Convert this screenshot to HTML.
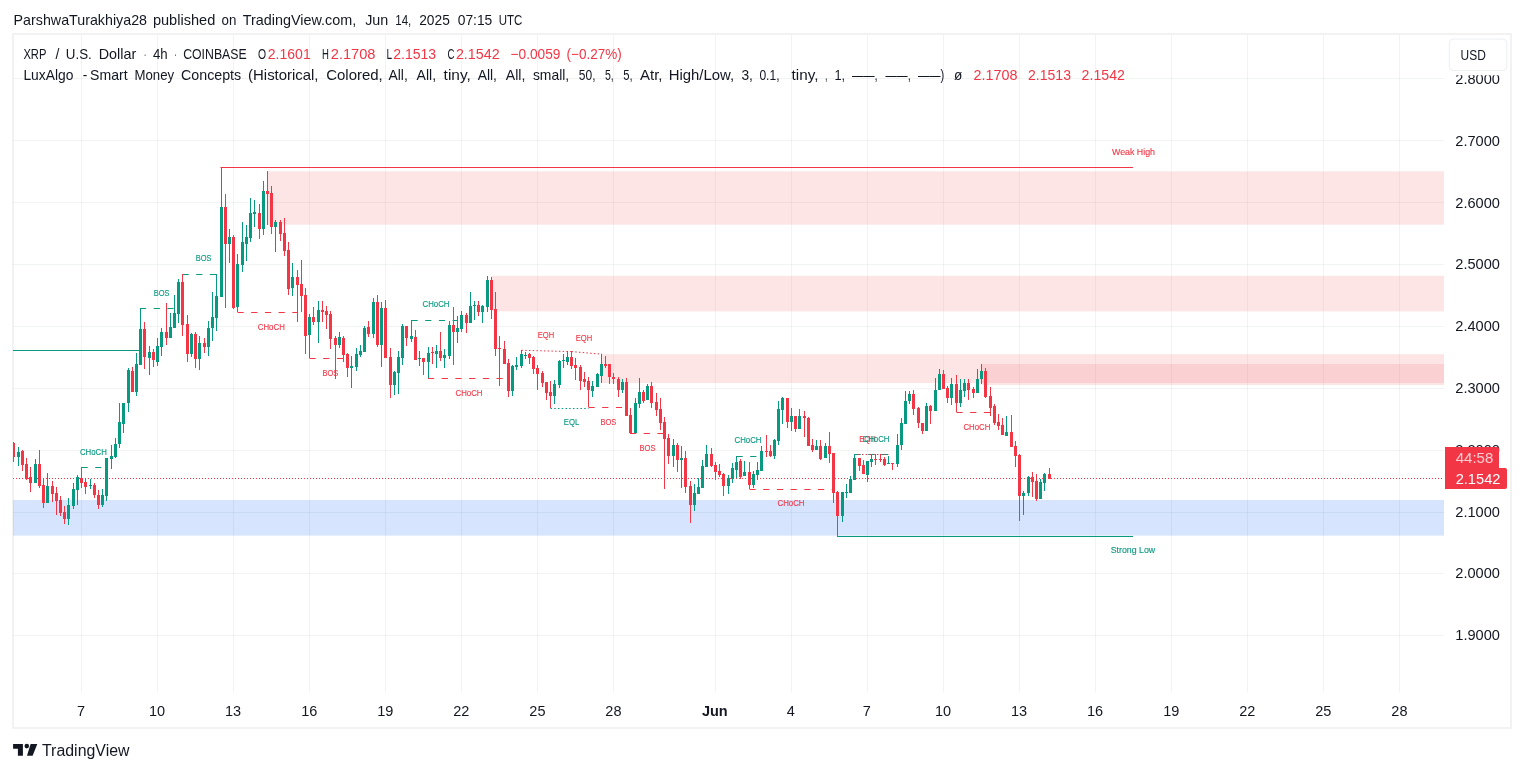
<!DOCTYPE html>
<html><head><meta charset="utf-8"><title>XRP / U.S. Dollar chart</title>
<style>html,body{margin:0;padding:0;background:#fff}body{width:1524px;height:772px;position:relative;overflow:hidden}</style></head>
<body>
<svg width="1524" height="772" viewBox="0 0 1524 772" style="position:absolute;left:0;top:0;font-family:'Liberation Sans', sans-serif">
<rect x="0" y="0" width="1524" height="772" fill="#fff"/>
<rect x="13" y="34" width="1498" height="694" fill="#fff" stroke="#f2f2f3" stroke-width="2"/>
<defs><clipPath id="pane"><rect x="13" y="35" width="1431" height="657"/></clipPath></defs>
<g shape-rendering="crispEdges" fill="rgba(42,46,57,0.06)">
<rect x="81" y="35" width="1" height="657"/>
<rect x="157" y="35" width="1" height="657"/>
<rect x="233" y="35" width="1" height="657"/>
<rect x="309" y="35" width="1" height="657"/>
<rect x="385" y="35" width="1" height="657"/>
<rect x="461" y="35" width="1" height="657"/>
<rect x="537" y="35" width="1" height="657"/>
<rect x="613" y="35" width="1" height="657"/>
<rect x="715" y="35" width="1" height="657"/>
<rect x="791" y="35" width="1" height="657"/>
<rect x="867" y="35" width="1" height="657"/>
<rect x="943" y="35" width="1" height="657"/>
<rect x="1019" y="35" width="1" height="657"/>
<rect x="1095" y="35" width="1" height="657"/>
<rect x="1171" y="35" width="1" height="657"/>
<rect x="1247" y="35" width="1" height="657"/>
<rect x="1323" y="35" width="1" height="657"/>
<rect x="1399" y="35" width="1" height="657"/>
<rect x="13" y="78" width="1431" height="1"/>
<rect x="13" y="140" width="1431" height="1"/>
<rect x="13" y="202" width="1431" height="1"/>
<rect x="13" y="264" width="1431" height="1"/>
<rect x="13" y="326" width="1431" height="1"/>
<rect x="13" y="388" width="1431" height="1"/>
<rect x="13" y="450" width="1431" height="1"/>
<rect x="13" y="512" width="1431" height="1"/>
<rect x="13" y="573" width="1431" height="1"/>
<rect x="13" y="635" width="1431" height="1"/>
</g>
<g clip-path="url(#pane)">
<rect x="267.5" y="171.3" width="1176.5" height="53.39999999999998" fill="rgba(247,124,128,0.2)"/>
<rect x="491.5" y="275.8" width="952.5" height="35.599999999999966" fill="rgba(247,124,128,0.2)"/>
<rect x="601.9" y="354.2" width="842.1" height="28.80000000000001" fill="rgba(247,124,128,0.2)"/>
<rect x="981.4" y="364.0" width="462.6" height="21.0" fill="rgba(247,124,128,0.2)"/>
<rect x="13" y="500" width="1431" height="35.60000000000002" fill="rgba(49,121,245,0.2)"/>
<line x1="13" y1="350.5" x2="140" y2="350.5" stroke="#089981" stroke-width="1"/>
<line x1="81.5" y1="467.5" x2="107" y2="467.5" stroke="#089981" stroke-width="1" stroke-dasharray="6.2 7.5"/>
<line x1="140" y1="308.5" x2="175" y2="308.5" stroke="#089981" stroke-width="1" stroke-dasharray="6.2 7.5"/>
<line x1="182.5" y1="274.5" x2="216" y2="274.5" stroke="#089981" stroke-width="1" stroke-dasharray="6.2 7.5"/>
<line x1="220.5" y1="167.5" x2="1133" y2="167.5" stroke="#f23645" stroke-width="1"/>
<line x1="237.5" y1="312.5" x2="297" y2="312.5" stroke="#f23645" stroke-width="1" stroke-dasharray="6.2 7.5"/>
<line x1="309.5" y1="358.5" x2="343.5" y2="358.5" stroke="#f23645" stroke-width="1" stroke-dasharray="6.2 7.5"/>
<line x1="411.5" y1="320.5" x2="458" y2="320.5" stroke="#089981" stroke-width="1" stroke-dasharray="6.2 7.5"/>
<line x1="428" y1="378.5" x2="503" y2="378.5" stroke="#f23645" stroke-width="1" stroke-dasharray="6.2 7.5"/>
<line x1="521.5" y1="350.3" x2="571.5" y2="351.6" stroke="#f23645" stroke-width="1" stroke-dasharray="1.5 2.24"/>
<line x1="571.5" y1="351.6" x2="602" y2="354.2" stroke="#f23645" stroke-width="1" stroke-dasharray="1.5 2.24"/>
<line x1="550.5" y1="408.5" x2="588.5" y2="408.5" stroke="#089981" stroke-width="1" stroke-dasharray="1.5 2.24"/>
<line x1="588.5" y1="407.5" x2="624.5" y2="407.5" stroke="#f23645" stroke-width="1" stroke-dasharray="6.2 7.5"/>
<line x1="630" y1="433.5" x2="665" y2="433.5" stroke="#f23645" stroke-width="1" stroke-dasharray="6.2 7.5"/>
<line x1="736.5" y1="456.5" x2="761" y2="456.5" stroke="#089981" stroke-width="1" stroke-dasharray="6.2 7.5"/>
<line x1="749.5" y1="489.5" x2="832.5" y2="489.5" stroke="#f23645" stroke-width="1" stroke-dasharray="6.2 7.5"/>
<line x1="854.5" y1="454.5" x2="888.5" y2="454.5" stroke="#089981" stroke-width="1" stroke-dasharray="6.2 7.5"/>
<line x1="854.5" y1="454.5" x2="888.5" y2="454.5" stroke="#f23645" stroke-width="1" stroke-dasharray="1.5 2.24"/>
<line x1="956.5" y1="412.5" x2="990" y2="412.5" stroke="#f23645" stroke-width="1" stroke-dasharray="6.2 7.5"/>
<line x1="837.5" y1="536.5" x2="1133" y2="536.5" stroke="#089981" stroke-width="1"/>
<line x1="13" y1="478.5" x2="1444" y2="478.5" stroke="#f23645" stroke-width="1" stroke-dasharray="1 2"/>
<g shape-rendering="crispEdges">
<rect x="13" y="442" width="1" height="20" fill="#f23645"/>
<rect x="12" y="443" width="3" height="14" fill="#f23645"/>
<rect x="18" y="447" width="1" height="19" fill="#089981"/>
<rect x="17" y="452" width="3" height="5" fill="#089981"/>
<rect x="22" y="450" width="1" height="21" fill="#f23645"/>
<rect x="21" y="451" width="3" height="14" fill="#f23645"/>
<rect x="26" y="458" width="1" height="22" fill="#f23645"/>
<rect x="25" y="464" width="3" height="15" fill="#f23645"/>
<rect x="30" y="467" width="1" height="25" fill="#f23645"/>
<rect x="29" y="477" width="3" height="6" fill="#f23645"/>
<rect x="35" y="459" width="1" height="24" fill="#089981"/>
<rect x="34" y="464" width="3" height="19" fill="#089981"/>
<rect x="39" y="450" width="1" height="38" fill="#f23645"/>
<rect x="38" y="464" width="3" height="22" fill="#f23645"/>
<rect x="43" y="478" width="1" height="30" fill="#f23645"/>
<rect x="42" y="485" width="3" height="18" fill="#f23645"/>
<rect x="47" y="473" width="1" height="30" fill="#089981"/>
<rect x="46" y="486" width="3" height="17" fill="#089981"/>
<rect x="52" y="481" width="1" height="21" fill="#f23645"/>
<rect x="51" y="486" width="3" height="8" fill="#f23645"/>
<rect x="56" y="487" width="1" height="28" fill="#f23645"/>
<rect x="55" y="493" width="3" height="8" fill="#f23645"/>
<rect x="60" y="496" width="1" height="20" fill="#f23645"/>
<rect x="59" y="500" width="3" height="13" fill="#f23645"/>
<rect x="64" y="506" width="1" height="18" fill="#f23645"/>
<rect x="63" y="512" width="3" height="7" fill="#f23645"/>
<rect x="68" y="498" width="1" height="27" fill="#089981"/>
<rect x="67" y="505" width="3" height="14" fill="#089981"/>
<rect x="73" y="483" width="1" height="26" fill="#089981"/>
<rect x="72" y="489" width="3" height="17" fill="#089981"/>
<rect x="77" y="475" width="1" height="30" fill="#089981"/>
<rect x="76" y="477" width="3" height="13" fill="#089981"/>
<rect x="81" y="467" width="1" height="21" fill="#f23645"/>
<rect x="80" y="478" width="3" height="5" fill="#f23645"/>
<rect x="85" y="479" width="1" height="15" fill="#f23645"/>
<rect x="84" y="482" width="3" height="5" fill="#f23645"/>
<rect x="90" y="479" width="1" height="10" fill="#089981"/>
<rect x="89" y="485" width="3" height="1" fill="#089981"/>
<rect x="94" y="483" width="1" height="15" fill="#f23645"/>
<rect x="93" y="485" width="3" height="10" fill="#f23645"/>
<rect x="98" y="490" width="1" height="19" fill="#f23645"/>
<rect x="97" y="495" width="3" height="10" fill="#f23645"/>
<rect x="102" y="489" width="1" height="18" fill="#089981"/>
<rect x="101" y="495" width="3" height="10" fill="#089981"/>
<rect x="106" y="458" width="1" height="43" fill="#089981"/>
<rect x="105" y="458" width="3" height="38" fill="#089981"/>
<rect x="111" y="445" width="1" height="24" fill="#089981"/>
<rect x="110" y="456" width="3" height="3" fill="#089981"/>
<rect x="115" y="438" width="1" height="20" fill="#089981"/>
<rect x="114" y="444" width="3" height="13" fill="#089981"/>
<rect x="119" y="403" width="1" height="45" fill="#089981"/>
<rect x="118" y="422" width="3" height="22" fill="#089981"/>
<rect x="123" y="403" width="1" height="30" fill="#089981"/>
<rect x="122" y="403" width="3" height="21" fill="#089981"/>
<rect x="128" y="368" width="1" height="44" fill="#089981"/>
<rect x="127" y="370" width="3" height="33" fill="#089981"/>
<rect x="132" y="367" width="1" height="25" fill="#f23645"/>
<rect x="131" y="371" width="3" height="21" fill="#f23645"/>
<rect x="136" y="353" width="1" height="43" fill="#089981"/>
<rect x="135" y="364" width="3" height="28" fill="#089981"/>
<rect x="140" y="309" width="1" height="56" fill="#089981"/>
<rect x="139" y="329" width="3" height="36" fill="#089981"/>
<rect x="144" y="322" width="1" height="47" fill="#f23645"/>
<rect x="143" y="329" width="3" height="28" fill="#f23645"/>
<rect x="149" y="346" width="1" height="29" fill="#089981"/>
<rect x="148" y="352" width="3" height="6" fill="#089981"/>
<rect x="153" y="349" width="1" height="18" fill="#f23645"/>
<rect x="152" y="352" width="3" height="8" fill="#f23645"/>
<rect x="157" y="338" width="1" height="28" fill="#089981"/>
<rect x="156" y="346" width="3" height="16" fill="#089981"/>
<rect x="161" y="328" width="1" height="28" fill="#089981"/>
<rect x="160" y="332" width="3" height="15" fill="#089981"/>
<rect x="166" y="303" width="1" height="42" fill="#f23645"/>
<rect x="165" y="332" width="3" height="6" fill="#f23645"/>
<rect x="170" y="313" width="1" height="25" fill="#089981"/>
<rect x="169" y="327" width="3" height="11" fill="#089981"/>
<rect x="174" y="295" width="1" height="33" fill="#089981"/>
<rect x="173" y="313" width="3" height="15" fill="#089981"/>
<rect x="178" y="279" width="1" height="44" fill="#089981"/>
<rect x="177" y="282" width="3" height="32" fill="#089981"/>
<rect x="182" y="274" width="1" height="62" fill="#f23645"/>
<rect x="181" y="282" width="3" height="43" fill="#f23645"/>
<rect x="187" y="315" width="1" height="47" fill="#f23645"/>
<rect x="186" y="324" width="3" height="30" fill="#f23645"/>
<rect x="191" y="333" width="1" height="24" fill="#089981"/>
<rect x="190" y="334" width="3" height="20" fill="#089981"/>
<rect x="195" y="332" width="1" height="36" fill="#f23645"/>
<rect x="194" y="334" width="3" height="25" fill="#f23645"/>
<rect x="199" y="336" width="1" height="34" fill="#089981"/>
<rect x="198" y="343" width="3" height="16" fill="#089981"/>
<rect x="204" y="338" width="1" height="15" fill="#f23645"/>
<rect x="203" y="343" width="3" height="4" fill="#f23645"/>
<rect x="208" y="321" width="1" height="35" fill="#089981"/>
<rect x="207" y="328" width="3" height="19" fill="#089981"/>
<rect x="212" y="292" width="1" height="49" fill="#089981"/>
<rect x="211" y="317" width="3" height="11" fill="#089981"/>
<rect x="216" y="274" width="1" height="57" fill="#089981"/>
<rect x="215" y="296" width="3" height="22" fill="#089981"/>
<rect x="221" y="167" width="1" height="130" fill="#089981"/>
<rect x="220" y="207" width="3" height="90" fill="#089981"/>
<rect x="225" y="194" width="1" height="114" fill="#f23645"/>
<rect x="224" y="207" width="3" height="37" fill="#f23645"/>
<rect x="229" y="229" width="1" height="34" fill="#089981"/>
<rect x="228" y="237" width="3" height="7" fill="#089981"/>
<rect x="233" y="235" width="1" height="74" fill="#f23645"/>
<rect x="232" y="237" width="3" height="71" fill="#f23645"/>
<rect x="237" y="254" width="1" height="58" fill="#089981"/>
<rect x="236" y="264" width="3" height="43" fill="#089981"/>
<rect x="242" y="222" width="1" height="50" fill="#089981"/>
<rect x="241" y="242" width="3" height="23" fill="#089981"/>
<rect x="246" y="225" width="1" height="36" fill="#089981"/>
<rect x="245" y="237" width="3" height="7" fill="#089981"/>
<rect x="250" y="198" width="1" height="44" fill="#089981"/>
<rect x="249" y="213" width="3" height="25" fill="#089981"/>
<rect x="254" y="200" width="1" height="27" fill="#089981"/>
<rect x="253" y="212" width="3" height="2" fill="#089981"/>
<rect x="259" y="204" width="1" height="35" fill="#f23645"/>
<rect x="258" y="213" width="3" height="16" fill="#f23645"/>
<rect x="263" y="181" width="1" height="54" fill="#089981"/>
<rect x="262" y="191" width="3" height="38" fill="#089981"/>
<rect x="267" y="171" width="1" height="54" fill="#f23645"/>
<rect x="266" y="191" width="3" height="3" fill="#f23645"/>
<rect x="271" y="186" width="1" height="48" fill="#f23645"/>
<rect x="270" y="193" width="3" height="34" fill="#f23645"/>
<rect x="275" y="220" width="1" height="32" fill="#089981"/>
<rect x="274" y="222" width="3" height="5" fill="#089981"/>
<rect x="280" y="220" width="1" height="21" fill="#f23645"/>
<rect x="279" y="222" width="3" height="12" fill="#f23645"/>
<rect x="284" y="218" width="1" height="38" fill="#f23645"/>
<rect x="283" y="233" width="3" height="18" fill="#f23645"/>
<rect x="288" y="242" width="1" height="53" fill="#f23645"/>
<rect x="287" y="250" width="3" height="39" fill="#f23645"/>
<rect x="292" y="263" width="1" height="33" fill="#089981"/>
<rect x="291" y="277" width="3" height="11" fill="#089981"/>
<rect x="297" y="270" width="1" height="52" fill="#f23645"/>
<rect x="296" y="277" width="3" height="8" fill="#f23645"/>
<rect x="301" y="260" width="1" height="52" fill="#f23645"/>
<rect x="300" y="284" width="3" height="12" fill="#f23645"/>
<rect x="305" y="288" width="1" height="66" fill="#f23645"/>
<rect x="304" y="295" width="3" height="41" fill="#f23645"/>
<rect x="309" y="314" width="1" height="44" fill="#089981"/>
<rect x="308" y="317" width="3" height="18" fill="#089981"/>
<rect x="313" y="307" width="1" height="18" fill="#f23645"/>
<rect x="312" y="317" width="3" height="5" fill="#f23645"/>
<rect x="318" y="301" width="1" height="42" fill="#089981"/>
<rect x="317" y="310" width="3" height="12" fill="#089981"/>
<rect x="322" y="301" width="1" height="21" fill="#f23645"/>
<rect x="321" y="310" width="3" height="2" fill="#f23645"/>
<rect x="326" y="306" width="1" height="23" fill="#f23645"/>
<rect x="325" y="311" width="3" height="4" fill="#f23645"/>
<rect x="330" y="311" width="1" height="38" fill="#f23645"/>
<rect x="329" y="314" width="3" height="25" fill="#f23645"/>
<rect x="335" y="336" width="1" height="43" fill="#f23645"/>
<rect x="334" y="338" width="3" height="7" fill="#f23645"/>
<rect x="339" y="332" width="1" height="16" fill="#089981"/>
<rect x="338" y="337" width="3" height="8" fill="#089981"/>
<rect x="343" y="336" width="1" height="26" fill="#f23645"/>
<rect x="342" y="338" width="3" height="17" fill="#f23645"/>
<rect x="347" y="353" width="1" height="24" fill="#f23645"/>
<rect x="346" y="354" width="3" height="14" fill="#f23645"/>
<rect x="351" y="356" width="1" height="32" fill="#089981"/>
<rect x="350" y="366" width="3" height="2" fill="#089981"/>
<rect x="356" y="348" width="1" height="23" fill="#089981"/>
<rect x="355" y="354" width="3" height="13" fill="#089981"/>
<rect x="360" y="345" width="1" height="12" fill="#089981"/>
<rect x="359" y="351" width="3" height="4" fill="#089981"/>
<rect x="364" y="326" width="1" height="26" fill="#089981"/>
<rect x="363" y="328" width="3" height="24" fill="#089981"/>
<rect x="368" y="321" width="1" height="16" fill="#f23645"/>
<rect x="367" y="327" width="3" height="7" fill="#f23645"/>
<rect x="373" y="298" width="1" height="40" fill="#089981"/>
<rect x="372" y="302" width="3" height="32" fill="#089981"/>
<rect x="377" y="295" width="1" height="52" fill="#f23645"/>
<rect x="376" y="302" width="3" height="43" fill="#f23645"/>
<rect x="381" y="302" width="1" height="65" fill="#089981"/>
<rect x="380" y="308" width="3" height="37" fill="#089981"/>
<rect x="385" y="300" width="1" height="58" fill="#f23645"/>
<rect x="384" y="308" width="3" height="50" fill="#f23645"/>
<rect x="390" y="348" width="1" height="50" fill="#f23645"/>
<rect x="389" y="357" width="3" height="28" fill="#f23645"/>
<rect x="394" y="371" width="1" height="24" fill="#089981"/>
<rect x="393" y="372" width="3" height="13" fill="#089981"/>
<rect x="398" y="351" width="1" height="43" fill="#089981"/>
<rect x="397" y="357" width="3" height="16" fill="#089981"/>
<rect x="402" y="324" width="1" height="41" fill="#089981"/>
<rect x="401" y="326" width="3" height="32" fill="#089981"/>
<rect x="406" y="326" width="1" height="20" fill="#f23645"/>
<rect x="405" y="326" width="3" height="12" fill="#f23645"/>
<rect x="411" y="320" width="1" height="22" fill="#089981"/>
<rect x="410" y="336" width="3" height="3" fill="#089981"/>
<rect x="415" y="330" width="1" height="30" fill="#f23645"/>
<rect x="414" y="337" width="3" height="23" fill="#f23645"/>
<rect x="419" y="351" width="1" height="15" fill="#089981"/>
<rect x="418" y="358" width="3" height="1" fill="#089981"/>
<rect x="423" y="358" width="1" height="17" fill="#f23645"/>
<rect x="422" y="358" width="3" height="4" fill="#f23645"/>
<rect x="428" y="347" width="1" height="31" fill="#089981"/>
<rect x="427" y="353" width="3" height="9" fill="#089981"/>
<rect x="432" y="347" width="1" height="17" fill="#f23645"/>
<rect x="431" y="352" width="3" height="1" fill="#f23645"/>
<rect x="436" y="345" width="1" height="23" fill="#089981"/>
<rect x="435" y="351" width="3" height="3" fill="#089981"/>
<rect x="440" y="332" width="1" height="29" fill="#f23645"/>
<rect x="439" y="351" width="3" height="7" fill="#f23645"/>
<rect x="444" y="349" width="1" height="19" fill="#089981"/>
<rect x="443" y="355" width="3" height="3" fill="#089981"/>
<rect x="449" y="321" width="1" height="38" fill="#089981"/>
<rect x="448" y="325" width="3" height="31" fill="#089981"/>
<rect x="453" y="307" width="1" height="58" fill="#f23645"/>
<rect x="452" y="325" width="3" height="7" fill="#f23645"/>
<rect x="457" y="316" width="1" height="27" fill="#089981"/>
<rect x="456" y="328" width="3" height="4" fill="#089981"/>
<rect x="461" y="311" width="1" height="21" fill="#089981"/>
<rect x="460" y="315" width="3" height="14" fill="#089981"/>
<rect x="466" y="313" width="1" height="20" fill="#f23645"/>
<rect x="465" y="315" width="3" height="8" fill="#f23645"/>
<rect x="470" y="292" width="1" height="31" fill="#089981"/>
<rect x="469" y="306" width="3" height="17" fill="#089981"/>
<rect x="474" y="301" width="1" height="19" fill="#089981"/>
<rect x="473" y="305" width="3" height="1" fill="#089981"/>
<rect x="478" y="301" width="1" height="15" fill="#f23645"/>
<rect x="477" y="305" width="3" height="7" fill="#f23645"/>
<rect x="482" y="305" width="1" height="18" fill="#089981"/>
<rect x="481" y="306" width="3" height="6" fill="#089981"/>
<rect x="487" y="276" width="1" height="36" fill="#089981"/>
<rect x="486" y="280" width="3" height="27" fill="#089981"/>
<rect x="491" y="277" width="1" height="42" fill="#f23645"/>
<rect x="490" y="280" width="3" height="30" fill="#f23645"/>
<rect x="495" y="292" width="1" height="64" fill="#f23645"/>
<rect x="494" y="309" width="3" height="40" fill="#f23645"/>
<rect x="499" y="336" width="1" height="50" fill="#f23645"/>
<rect x="498" y="348" width="3" height="1" fill="#f23645"/>
<rect x="504" y="341" width="1" height="23" fill="#f23645"/>
<rect x="503" y="349" width="3" height="15" fill="#f23645"/>
<rect x="508" y="359" width="1" height="38" fill="#f23645"/>
<rect x="507" y="363" width="3" height="28" fill="#f23645"/>
<rect x="512" y="365" width="1" height="31" fill="#089981"/>
<rect x="511" y="366" width="3" height="25" fill="#089981"/>
<rect x="516" y="357" width="1" height="13" fill="#089981"/>
<rect x="515" y="365" width="3" height="2" fill="#089981"/>
<rect x="521" y="350" width="1" height="18" fill="#089981"/>
<rect x="520" y="354" width="3" height="12" fill="#089981"/>
<rect x="525" y="352" width="1" height="7" fill="#089981"/>
<rect x="524" y="355" width="3" height="1" fill="#089981"/>
<rect x="529" y="353" width="1" height="11" fill="#f23645"/>
<rect x="528" y="354" width="3" height="4" fill="#f23645"/>
<rect x="533" y="356" width="1" height="18" fill="#f23645"/>
<rect x="532" y="357" width="3" height="12" fill="#f23645"/>
<rect x="537" y="365" width="1" height="25" fill="#f23645"/>
<rect x="536" y="368" width="3" height="6" fill="#f23645"/>
<rect x="542" y="371" width="1" height="16" fill="#f23645"/>
<rect x="541" y="373" width="3" height="10" fill="#f23645"/>
<rect x="546" y="382" width="1" height="18" fill="#f23645"/>
<rect x="545" y="382" width="3" height="11" fill="#f23645"/>
<rect x="550" y="381" width="1" height="27" fill="#f23645"/>
<rect x="549" y="392" width="3" height="4" fill="#f23645"/>
<rect x="554" y="380" width="1" height="24" fill="#089981"/>
<rect x="553" y="384" width="3" height="12" fill="#089981"/>
<rect x="559" y="360" width="1" height="28" fill="#089981"/>
<rect x="558" y="361" width="3" height="24" fill="#089981"/>
<rect x="563" y="354" width="1" height="14" fill="#089981"/>
<rect x="562" y="360" width="3" height="1" fill="#089981"/>
<rect x="567" y="351" width="1" height="14" fill="#089981"/>
<rect x="566" y="357" width="3" height="5" fill="#089981"/>
<rect x="571" y="351" width="1" height="18" fill="#f23645"/>
<rect x="570" y="357" width="3" height="9" fill="#f23645"/>
<rect x="575" y="358" width="1" height="22" fill="#f23645"/>
<rect x="574" y="365" width="3" height="3" fill="#f23645"/>
<rect x="580" y="365" width="1" height="25" fill="#f23645"/>
<rect x="579" y="367" width="3" height="14" fill="#f23645"/>
<rect x="584" y="372" width="1" height="15" fill="#f23645"/>
<rect x="583" y="379" width="3" height="3" fill="#f23645"/>
<rect x="588" y="377" width="1" height="30" fill="#f23645"/>
<rect x="587" y="381" width="3" height="9" fill="#f23645"/>
<rect x="592" y="381" width="1" height="16" fill="#089981"/>
<rect x="591" y="386" width="3" height="5" fill="#089981"/>
<rect x="597" y="373" width="1" height="14" fill="#089981"/>
<rect x="596" y="374" width="3" height="13" fill="#089981"/>
<rect x="601" y="354" width="1" height="29" fill="#089981"/>
<rect x="600" y="364" width="3" height="12" fill="#089981"/>
<rect x="605" y="356" width="1" height="12" fill="#f23645"/>
<rect x="604" y="364" width="3" height="2" fill="#f23645"/>
<rect x="609" y="364" width="1" height="20" fill="#f23645"/>
<rect x="608" y="364" width="3" height="13" fill="#f23645"/>
<rect x="613" y="373" width="1" height="11" fill="#f23645"/>
<rect x="612" y="377" width="3" height="2" fill="#f23645"/>
<rect x="618" y="377" width="1" height="20" fill="#f23645"/>
<rect x="617" y="379" width="3" height="11" fill="#f23645"/>
<rect x="622" y="379" width="1" height="14" fill="#089981"/>
<rect x="621" y="382" width="3" height="8" fill="#089981"/>
<rect x="626" y="378" width="1" height="38" fill="#f23645"/>
<rect x="625" y="382" width="3" height="34" fill="#f23645"/>
<rect x="630" y="408" width="1" height="25" fill="#f23645"/>
<rect x="629" y="415" width="3" height="18" fill="#f23645"/>
<rect x="635" y="398" width="1" height="35" fill="#089981"/>
<rect x="634" y="403" width="3" height="30" fill="#089981"/>
<rect x="639" y="378" width="1" height="30" fill="#089981"/>
<rect x="638" y="392" width="3" height="12" fill="#089981"/>
<rect x="643" y="390" width="1" height="13" fill="#f23645"/>
<rect x="642" y="392" width="3" height="9" fill="#f23645"/>
<rect x="647" y="384" width="1" height="16" fill="#089981"/>
<rect x="646" y="386" width="3" height="14" fill="#089981"/>
<rect x="651" y="382" width="1" height="26" fill="#f23645"/>
<rect x="650" y="386" width="3" height="17" fill="#f23645"/>
<rect x="656" y="393" width="1" height="23" fill="#f23645"/>
<rect x="655" y="402" width="3" height="8" fill="#f23645"/>
<rect x="660" y="398" width="1" height="32" fill="#f23645"/>
<rect x="659" y="409" width="3" height="14" fill="#f23645"/>
<rect x="664" y="417" width="1" height="72" fill="#f23645"/>
<rect x="663" y="422" width="3" height="17" fill="#f23645"/>
<rect x="668" y="434" width="1" height="30" fill="#f23645"/>
<rect x="667" y="438" width="3" height="18" fill="#f23645"/>
<rect x="673" y="439" width="1" height="28" fill="#089981"/>
<rect x="672" y="445" width="3" height="11" fill="#089981"/>
<rect x="677" y="443" width="1" height="29" fill="#f23645"/>
<rect x="676" y="445" width="3" height="15" fill="#f23645"/>
<rect x="681" y="446" width="1" height="42" fill="#089981"/>
<rect x="680" y="458" width="3" height="2" fill="#089981"/>
<rect x="685" y="451" width="1" height="42" fill="#f23645"/>
<rect x="684" y="458" width="3" height="29" fill="#f23645"/>
<rect x="690" y="481" width="1" height="42" fill="#f23645"/>
<rect x="689" y="486" width="3" height="19" fill="#f23645"/>
<rect x="694" y="484" width="1" height="27" fill="#089981"/>
<rect x="693" y="493" width="3" height="12" fill="#089981"/>
<rect x="698" y="478" width="1" height="16" fill="#089981"/>
<rect x="697" y="487" width="3" height="7" fill="#089981"/>
<rect x="702" y="460" width="1" height="28" fill="#089981"/>
<rect x="701" y="466" width="3" height="22" fill="#089981"/>
<rect x="706" y="445" width="1" height="22" fill="#089981"/>
<rect x="705" y="454" width="3" height="13" fill="#089981"/>
<rect x="711" y="448" width="1" height="19" fill="#f23645"/>
<rect x="710" y="454" width="3" height="12" fill="#f23645"/>
<rect x="715" y="462" width="1" height="18" fill="#f23645"/>
<rect x="714" y="465" width="3" height="7" fill="#f23645"/>
<rect x="719" y="464" width="1" height="13" fill="#f23645"/>
<rect x="718" y="471" width="3" height="4" fill="#f23645"/>
<rect x="723" y="473" width="1" height="23" fill="#f23645"/>
<rect x="722" y="474" width="3" height="12" fill="#f23645"/>
<rect x="728" y="475" width="1" height="19" fill="#089981"/>
<rect x="727" y="478" width="3" height="8" fill="#089981"/>
<rect x="732" y="463" width="1" height="20" fill="#089981"/>
<rect x="731" y="468" width="3" height="11" fill="#089981"/>
<rect x="736" y="456" width="1" height="22" fill="#089981"/>
<rect x="735" y="462" width="3" height="8" fill="#089981"/>
<rect x="740" y="459" width="1" height="20" fill="#f23645"/>
<rect x="739" y="461" width="3" height="16" fill="#f23645"/>
<rect x="744" y="461" width="1" height="15" fill="#089981"/>
<rect x="743" y="472" width="3" height="4" fill="#089981"/>
<rect x="749" y="462" width="1" height="27" fill="#f23645"/>
<rect x="748" y="472" width="3" height="13" fill="#f23645"/>
<rect x="753" y="471" width="1" height="17" fill="#089981"/>
<rect x="752" y="474" width="3" height="11" fill="#089981"/>
<rect x="757" y="462" width="1" height="18" fill="#089981"/>
<rect x="756" y="470" width="3" height="5" fill="#089981"/>
<rect x="761" y="446" width="1" height="25" fill="#089981"/>
<rect x="760" y="451" width="3" height="20" fill="#089981"/>
<rect x="766" y="435" width="1" height="22" fill="#f23645"/>
<rect x="765" y="451" width="3" height="1" fill="#f23645"/>
<rect x="770" y="445" width="1" height="12" fill="#f23645"/>
<rect x="769" y="451" width="3" height="5" fill="#f23645"/>
<rect x="774" y="439" width="1" height="20" fill="#089981"/>
<rect x="773" y="440" width="3" height="16" fill="#089981"/>
<rect x="778" y="401" width="1" height="44" fill="#089981"/>
<rect x="777" y="409" width="3" height="32" fill="#089981"/>
<rect x="782" y="397" width="1" height="27" fill="#089981"/>
<rect x="781" y="398" width="3" height="12" fill="#089981"/>
<rect x="787" y="398" width="1" height="30" fill="#f23645"/>
<rect x="786" y="398" width="3" height="24" fill="#f23645"/>
<rect x="791" y="408" width="1" height="23" fill="#089981"/>
<rect x="790" y="416" width="3" height="6" fill="#089981"/>
<rect x="795" y="416" width="1" height="16" fill="#f23645"/>
<rect x="794" y="416" width="3" height="13" fill="#f23645"/>
<rect x="799" y="409" width="1" height="20" fill="#089981"/>
<rect x="798" y="416" width="3" height="13" fill="#089981"/>
<rect x="804" y="411" width="1" height="26" fill="#f23645"/>
<rect x="803" y="416" width="3" height="2" fill="#f23645"/>
<rect x="808" y="417" width="1" height="29" fill="#f23645"/>
<rect x="807" y="418" width="3" height="28" fill="#f23645"/>
<rect x="812" y="439" width="1" height="13" fill="#f23645"/>
<rect x="811" y="445" width="3" height="5" fill="#f23645"/>
<rect x="816" y="440" width="1" height="10" fill="#089981"/>
<rect x="815" y="446" width="3" height="4" fill="#089981"/>
<rect x="820" y="440" width="1" height="20" fill="#f23645"/>
<rect x="819" y="446" width="3" height="13" fill="#f23645"/>
<rect x="825" y="443" width="1" height="15" fill="#089981"/>
<rect x="824" y="446" width="3" height="12" fill="#089981"/>
<rect x="829" y="432" width="1" height="31" fill="#f23645"/>
<rect x="828" y="446" width="3" height="8" fill="#f23645"/>
<rect x="833" y="453" width="1" height="50" fill="#f23645"/>
<rect x="832" y="453" width="3" height="40" fill="#f23645"/>
<rect x="837" y="491" width="1" height="46" fill="#f23645"/>
<rect x="836" y="492" width="3" height="24" fill="#f23645"/>
<rect x="842" y="492" width="1" height="30" fill="#089981"/>
<rect x="841" y="492" width="3" height="24" fill="#089981"/>
<rect x="846" y="484" width="1" height="14" fill="#089981"/>
<rect x="845" y="492" width="3" height="1" fill="#089981"/>
<rect x="850" y="476" width="1" height="17" fill="#089981"/>
<rect x="849" y="479" width="3" height="14" fill="#089981"/>
<rect x="854" y="454" width="1" height="26" fill="#089981"/>
<rect x="853" y="458" width="3" height="22" fill="#089981"/>
<rect x="859" y="458" width="1" height="13" fill="#f23645"/>
<rect x="858" y="458" width="3" height="8" fill="#f23645"/>
<rect x="863" y="460" width="1" height="14" fill="#f23645"/>
<rect x="862" y="465" width="3" height="9" fill="#f23645"/>
<rect x="867" y="461" width="1" height="21" fill="#089981"/>
<rect x="866" y="461" width="3" height="14" fill="#089981"/>
<rect x="871" y="454" width="1" height="13" fill="#089981"/>
<rect x="870" y="459" width="3" height="3" fill="#089981"/>
<rect x="875" y="454" width="1" height="11" fill="#f23645"/>
<rect x="874" y="459" width="3" height="1" fill="#f23645"/>
<rect x="880" y="454" width="1" height="8" fill="#f23645"/>
<rect x="879" y="459" width="3" height="1" fill="#f23645"/>
<rect x="884" y="457" width="1" height="9" fill="#f23645"/>
<rect x="883" y="459" width="3" height="6" fill="#f23645"/>
<rect x="888" y="456" width="1" height="8" fill="#089981"/>
<rect x="887" y="463" width="3" height="1" fill="#089981"/>
<rect x="892" y="463" width="1" height="7" fill="#f23645"/>
<rect x="891" y="463" width="3" height="1" fill="#f23645"/>
<rect x="897" y="434" width="1" height="33" fill="#089981"/>
<rect x="896" y="445" width="3" height="19" fill="#089981"/>
<rect x="901" y="418" width="1" height="32" fill="#089981"/>
<rect x="900" y="423" width="3" height="22" fill="#089981"/>
<rect x="905" y="391" width="1" height="33" fill="#089981"/>
<rect x="904" y="401" width="3" height="23" fill="#089981"/>
<rect x="909" y="391" width="1" height="13" fill="#089981"/>
<rect x="908" y="394" width="3" height="7" fill="#089981"/>
<rect x="913" y="390" width="1" height="25" fill="#f23645"/>
<rect x="912" y="394" width="3" height="15" fill="#f23645"/>
<rect x="918" y="407" width="1" height="21" fill="#f23645"/>
<rect x="917" y="408" width="3" height="15" fill="#f23645"/>
<rect x="922" y="423" width="1" height="11" fill="#f23645"/>
<rect x="921" y="423" width="3" height="8" fill="#f23645"/>
<rect x="926" y="403" width="1" height="28" fill="#089981"/>
<rect x="925" y="406" width="3" height="25" fill="#089981"/>
<rect x="930" y="405" width="1" height="19" fill="#f23645"/>
<rect x="929" y="406" width="3" height="5" fill="#f23645"/>
<rect x="935" y="378" width="1" height="33" fill="#089981"/>
<rect x="934" y="390" width="3" height="21" fill="#089981"/>
<rect x="939" y="369" width="1" height="21" fill="#089981"/>
<rect x="938" y="374" width="3" height="16" fill="#089981"/>
<rect x="943" y="370" width="1" height="19" fill="#f23645"/>
<rect x="942" y="374" width="3" height="15" fill="#f23645"/>
<rect x="947" y="386" width="1" height="17" fill="#f23645"/>
<rect x="946" y="388" width="3" height="10" fill="#f23645"/>
<rect x="951" y="378" width="1" height="27" fill="#089981"/>
<rect x="950" y="384" width="3" height="14" fill="#089981"/>
<rect x="956" y="375" width="1" height="37" fill="#f23645"/>
<rect x="955" y="384" width="3" height="19" fill="#f23645"/>
<rect x="960" y="379" width="1" height="28" fill="#089981"/>
<rect x="959" y="390" width="3" height="13" fill="#089981"/>
<rect x="964" y="379" width="1" height="18" fill="#089981"/>
<rect x="963" y="383" width="3" height="8" fill="#089981"/>
<rect x="968" y="379" width="1" height="21" fill="#f23645"/>
<rect x="967" y="383" width="3" height="7" fill="#f23645"/>
<rect x="973" y="387" width="1" height="11" fill="#f23645"/>
<rect x="972" y="389" width="3" height="4" fill="#f23645"/>
<rect x="977" y="369" width="1" height="24" fill="#089981"/>
<rect x="976" y="379" width="3" height="14" fill="#089981"/>
<rect x="981" y="364" width="1" height="20" fill="#089981"/>
<rect x="980" y="371" width="3" height="8" fill="#089981"/>
<rect x="985" y="368" width="1" height="30" fill="#f23645"/>
<rect x="984" y="371" width="3" height="26" fill="#f23645"/>
<rect x="990" y="387" width="1" height="29" fill="#f23645"/>
<rect x="989" y="396" width="3" height="12" fill="#f23645"/>
<rect x="994" y="404" width="1" height="21" fill="#f23645"/>
<rect x="993" y="406" width="3" height="17" fill="#f23645"/>
<rect x="998" y="414" width="1" height="16" fill="#f23645"/>
<rect x="997" y="422" width="3" height="4" fill="#f23645"/>
<rect x="1002" y="418" width="1" height="17" fill="#f23645"/>
<rect x="1001" y="425" width="3" height="10" fill="#f23645"/>
<rect x="1006" y="416" width="1" height="20" fill="#089981"/>
<rect x="1005" y="432" width="3" height="4" fill="#089981"/>
<rect x="1011" y="415" width="1" height="32" fill="#f23645"/>
<rect x="1010" y="432" width="3" height="15" fill="#f23645"/>
<rect x="1015" y="441" width="1" height="26" fill="#f23645"/>
<rect x="1014" y="446" width="3" height="10" fill="#f23645"/>
<rect x="1019" y="454" width="1" height="67" fill="#f23645"/>
<rect x="1018" y="455" width="3" height="41" fill="#f23645"/>
<rect x="1023" y="491" width="1" height="24" fill="#089981"/>
<rect x="1022" y="493" width="3" height="3" fill="#089981"/>
<rect x="1028" y="476" width="1" height="20" fill="#089981"/>
<rect x="1027" y="477" width="3" height="16" fill="#089981"/>
<rect x="1032" y="472" width="1" height="25" fill="#f23645"/>
<rect x="1031" y="477" width="3" height="5" fill="#f23645"/>
<rect x="1036" y="474" width="1" height="27" fill="#f23645"/>
<rect x="1035" y="481" width="3" height="18" fill="#f23645"/>
<rect x="1040" y="479" width="1" height="20" fill="#089981"/>
<rect x="1039" y="482" width="3" height="17" fill="#089981"/>
<rect x="1044" y="473" width="1" height="18" fill="#089981"/>
<rect x="1043" y="474" width="3" height="9" fill="#089981"/>
<rect x="1049" y="468" width="1" height="11" fill="#f23645"/>
<rect x="1048" y="474" width="3" height="5" fill="#f23645"/>
</g>
<text x="93.4" y="454.8" font-size="8.4" fill="#089981" stroke="#089981" stroke-width="0.12" text-anchor="middle" textLength="27" lengthAdjust="spacingAndGlyphs">CHoCH</text>
<text x="161.7" y="296.1" font-size="8.4" fill="#089981" stroke="#089981" stroke-width="0.12" text-anchor="middle" textLength="15.8" lengthAdjust="spacingAndGlyphs">BOS</text>
<text x="203.7" y="261.1" font-size="8.4" fill="#089981" stroke="#089981" stroke-width="0.12" text-anchor="middle" textLength="15.8" lengthAdjust="spacingAndGlyphs">BOS</text>
<text x="271.3" y="329.7" font-size="8.4" fill="#f23645" stroke="#f23645" stroke-width="0.12" text-anchor="middle" textLength="27" lengthAdjust="spacingAndGlyphs">CHoCH</text>
<text x="330.4" y="375.5" font-size="8.4" fill="#f23645" stroke="#f23645" stroke-width="0.12" text-anchor="middle" textLength="15.8" lengthAdjust="spacingAndGlyphs">BOS</text>
<text x="436" y="306.8" font-size="8.4" fill="#089981" stroke="#089981" stroke-width="0.12" text-anchor="middle" textLength="27" lengthAdjust="spacingAndGlyphs">CHoCH</text>
<text x="469" y="395.8" font-size="8.4" fill="#f23645" stroke="#f23645" stroke-width="0.12" text-anchor="middle" textLength="27" lengthAdjust="spacingAndGlyphs">CHoCH</text>
<text x="545.9" y="338.0" font-size="8.4" fill="#f23645" stroke="#f23645" stroke-width="0.12" text-anchor="middle" textLength="16.5" lengthAdjust="spacingAndGlyphs">EQH</text>
<text x="584" y="341.0" font-size="8.4" fill="#f23645" stroke="#f23645" stroke-width="0.12" text-anchor="middle" textLength="16.5" lengthAdjust="spacingAndGlyphs">EQH</text>
<text x="571.5" y="425.0" font-size="8.4" fill="#089981" stroke="#089981" stroke-width="0.12" text-anchor="middle" textLength="15.5" lengthAdjust="spacingAndGlyphs">EQL</text>
<text x="608.4" y="425.0" font-size="8.4" fill="#f23645" stroke="#f23645" stroke-width="0.12" text-anchor="middle" textLength="15.8" lengthAdjust="spacingAndGlyphs">BOS</text>
<text x="647.5" y="450.6" font-size="8.4" fill="#f23645" stroke="#f23645" stroke-width="0.12" text-anchor="middle" textLength="15.8" lengthAdjust="spacingAndGlyphs">BOS</text>
<text x="748" y="442.5" font-size="8.4" fill="#089981" stroke="#089981" stroke-width="0.12" text-anchor="middle" textLength="27" lengthAdjust="spacingAndGlyphs">CHoCH</text>
<text x="791" y="506.1" font-size="8.4" fill="#f23645" stroke="#f23645" stroke-width="0.12" text-anchor="middle" textLength="27" lengthAdjust="spacingAndGlyphs">CHoCH</text>
<text x="867.5" y="441.6" font-size="8.4" fill="#f23645" stroke="#f23645" stroke-width="0.12" text-anchor="middle" textLength="16.5" lengthAdjust="spacingAndGlyphs">EQH</text>
<text x="876" y="441.6" font-size="8.4" fill="#089981" stroke="#089981" stroke-width="0.12" text-anchor="middle" textLength="27" lengthAdjust="spacingAndGlyphs">CHoCH</text>
<text x="976.9" y="429.8" font-size="8.4" fill="#f23645" stroke="#f23645" stroke-width="0.12" text-anchor="middle" textLength="27" lengthAdjust="spacingAndGlyphs">CHoCH</text>
<text x="1133.5" y="155.1" font-size="8.4" fill="#f23645" stroke="#f23645" stroke-width="0.12" text-anchor="middle" textLength="43" lengthAdjust="spacingAndGlyphs">Weak High</text>
<text x="1132.9" y="552.8" font-size="8.4" fill="#089981" stroke="#089981" stroke-width="0.12" text-anchor="middle" textLength="44.5" lengthAdjust="spacingAndGlyphs">Strong Low</text>
</g>
<text x="1455.3" y="84.0" font-size="14.5" fill="#131722" textLength="44.6" lengthAdjust="spacingAndGlyphs">2.8000</text>
<text x="1455.3" y="145.8" font-size="14.5" fill="#131722" textLength="44.6" lengthAdjust="spacingAndGlyphs">2.7000</text>
<text x="1455.3" y="207.6" font-size="14.5" fill="#131722" textLength="44.6" lengthAdjust="spacingAndGlyphs">2.6000</text>
<text x="1455.3" y="269.4" font-size="14.5" fill="#131722" textLength="44.6" lengthAdjust="spacingAndGlyphs">2.5000</text>
<text x="1455.3" y="331.2" font-size="14.5" fill="#131722" textLength="44.6" lengthAdjust="spacingAndGlyphs">2.4000</text>
<text x="1455.3" y="393.0" font-size="14.5" fill="#131722" textLength="44.6" lengthAdjust="spacingAndGlyphs">2.3000</text>
<text x="1455.3" y="454.8" font-size="14.5" fill="#131722" textLength="44.6" lengthAdjust="spacingAndGlyphs">2.2000</text>
<text x="1455.3" y="516.6" font-size="14.5" fill="#131722" textLength="44.6" lengthAdjust="spacingAndGlyphs">2.1000</text>
<text x="1455.3" y="578.4" font-size="14.5" fill="#131722" textLength="44.6" lengthAdjust="spacingAndGlyphs">2.0000</text>
<text x="1455.3" y="640.2" font-size="14.5" fill="#131722" textLength="44.6" lengthAdjust="spacingAndGlyphs">1.9000</text>
<rect x="1445" y="35" width="65" height="40.3" fill="#fff"/>
<rect x="1449.3" y="39" width="57.5" height="31.5" rx="4" fill="#fff" stroke="#eceef2" stroke-width="1"/>
<text x="1460.6" y="59.5" font-size="14.5" fill="#131722" textLength="25.2" lengthAdjust="spacingAndGlyphs">USD</text>
<path d="M1445 447h52a2 2 0 0 1 2 2v19h-54z" fill="#f23645"/>
<path d="M1445 468h60a2 2 0 0 1 2 2v17a2 2 0 0 1 -2 2h-60z" fill="#f23645"/>
<text x="1455.7" y="463" font-size="14.5" fill="#fbcdd1" textLength="37.6" lengthAdjust="spacingAndGlyphs">44:58</text>
<text x="1455.7" y="483.8" font-size="14.5" fill="#fff" textLength="44.7" lengthAdjust="spacingAndGlyphs">2.1542</text>
<text x="81.0" y="716" font-size="14.5" fill="#131722" text-anchor="middle">7</text>
<text x="157.1" y="716" font-size="14.5" fill="#131722" text-anchor="middle">10</text>
<text x="233.1" y="716" font-size="14.5" fill="#131722" text-anchor="middle">13</text>
<text x="309.2" y="716" font-size="14.5" fill="#131722" text-anchor="middle">16</text>
<text x="385.2" y="716" font-size="14.5" fill="#131722" text-anchor="middle">19</text>
<text x="461.3" y="716" font-size="14.5" fill="#131722" text-anchor="middle">22</text>
<text x="537.4" y="716" font-size="14.5" fill="#131722" text-anchor="middle">25</text>
<text x="613.4" y="716" font-size="14.5" fill="#131722" text-anchor="middle">28</text>
<text x="714.8" y="716" font-size="14.5" fill="#131722" text-anchor="middle" font-weight="bold">Jun</text>
<text x="790.9" y="716" font-size="14.5" fill="#131722" text-anchor="middle">4</text>
<text x="866.9" y="716" font-size="14.5" fill="#131722" text-anchor="middle">7</text>
<text x="943.0" y="716" font-size="14.5" fill="#131722" text-anchor="middle">10</text>
<text x="1019.1" y="716" font-size="14.5" fill="#131722" text-anchor="middle">13</text>
<text x="1095.1" y="716" font-size="14.5" fill="#131722" text-anchor="middle">16</text>
<text x="1171.2" y="716" font-size="14.5" fill="#131722" text-anchor="middle">19</text>
<text x="1247.2" y="716" font-size="14.5" fill="#131722" text-anchor="middle">22</text>
<text x="1323.3" y="716" font-size="14.5" fill="#131722" text-anchor="middle">25</text>
<text x="1399.4" y="716" font-size="14.5" fill="#131722" text-anchor="middle">28</text>
<text x="13.6" y="24.9" font-size="14.5" fill="#131722" textLength="133.4" lengthAdjust="spacingAndGlyphs">ParshwaTurakhiya28</text>
<text x="152.9" y="24.9" font-size="14.5" fill="#131722" textLength="62.4" lengthAdjust="spacingAndGlyphs">published</text>
<text x="221.5" y="24.9" font-size="14.5" fill="#131722" textLength="14.8" lengthAdjust="spacingAndGlyphs">on</text>
<text x="242.7" y="24.9" font-size="14.5" fill="#131722" textLength="113.6" lengthAdjust="spacingAndGlyphs">TradingView.com,</text>
<text x="365.2" y="24.9" font-size="14.5" fill="#131722" textLength="23.1" lengthAdjust="spacingAndGlyphs">Jun</text>
<text x="395.2" y="24.9" font-size="14.5" fill="#131722" textLength="16.1" lengthAdjust="spacingAndGlyphs">14,</text>
<text x="419.2" y="24.9" font-size="14.5" fill="#131722" textLength="30.6" lengthAdjust="spacingAndGlyphs">2025</text>
<text x="457.7" y="24.9" font-size="14.5" fill="#131722" textLength="34.6" lengthAdjust="spacingAndGlyphs">07:15</text>
<text x="498.7" y="24.9" font-size="14.5" fill="#131722" textLength="23.6" lengthAdjust="spacingAndGlyphs">UTC</text>
<text x="23.4" y="58.9" font-size="14.5" fill="#131722" textLength="23.0" lengthAdjust="spacingAndGlyphs">XRP</text>
<text x="55.4" y="58.9" font-size="14.5" fill="#131722" textLength="3.9" lengthAdjust="spacingAndGlyphs">/</text>
<text x="65.8" y="58.9" font-size="14.5" fill="#131722" textLength="26.0" lengthAdjust="spacingAndGlyphs">U.S.</text>
<text x="98.7" y="58.9" font-size="14.5" fill="#131722" textLength="37.5" lengthAdjust="spacingAndGlyphs">Dollar</text>
<text x="144" y="58.9" font-size="14.5" fill="#131722" textLength="2.2" lengthAdjust="spacingAndGlyphs">·</text>
<text x="152.9" y="58.9" font-size="14.5" fill="#131722" textLength="14.7" lengthAdjust="spacingAndGlyphs">4h</text>
<text x="174.3" y="58.9" font-size="14.5" fill="#131722" textLength="2.2" lengthAdjust="spacingAndGlyphs">·</text>
<text x="183.2" y="58.9" font-size="14.5" fill="#131722" textLength="63.5" lengthAdjust="spacingAndGlyphs">COINBASE</text>
<text x="257.9" y="58.9" font-size="14.5" fill="#131722" textLength="8.1" lengthAdjust="spacingAndGlyphs">O</text>
<text x="322.1" y="58.9" font-size="14.5" fill="#131722" textLength="6.9" lengthAdjust="spacingAndGlyphs">H</text>
<text x="386.4" y="58.9" font-size="14.5" fill="#131722" textLength="5.6" lengthAdjust="spacingAndGlyphs">L</text>
<text x="447.5" y="58.9" font-size="14.5" fill="#131722" textLength="7.0" lengthAdjust="spacingAndGlyphs">C</text>
<text x="267.8" y="58.9" font-size="14.5" fill="#f23645" textLength="42.9" lengthAdjust="spacingAndGlyphs">2.1601</text>
<text x="330.8" y="58.9" font-size="14.5" fill="#f23645" textLength="44.7" lengthAdjust="spacingAndGlyphs">2.1708</text>
<text x="393.2" y="58.9" font-size="14.5" fill="#f23645" textLength="42.9" lengthAdjust="spacingAndGlyphs">2.1513</text>
<text x="455.9" y="58.9" font-size="14.5" fill="#f23645" textLength="43.7" lengthAdjust="spacingAndGlyphs">2.1542</text>
<text x="510.5" y="58.9" font-size="14.5" fill="#f23645" textLength="50.0" lengthAdjust="spacingAndGlyphs">−0.0059</text>
<text x="566.5" y="58.9" font-size="14.5" fill="#f23645" textLength="55.2" lengthAdjust="spacingAndGlyphs">(−0.27%)</text>
<text x="23.4" y="79.7" font-size="14.5" fill="#131722" textLength="50.0" lengthAdjust="spacingAndGlyphs">LuxAlgo</text>
<text x="82.7" y="79.7" font-size="14.5" fill="#131722" textLength="4.6" lengthAdjust="spacingAndGlyphs">-</text>
<text x="90.1" y="79.7" font-size="14.5" fill="#131722" textLength="37.5" lengthAdjust="spacingAndGlyphs">Smart</text>
<text x="134.5" y="79.7" font-size="14.5" fill="#131722" textLength="39.6" lengthAdjust="spacingAndGlyphs">Money</text>
<text x="181.0" y="79.7" font-size="14.5" fill="#131722" textLength="60.2" lengthAdjust="spacingAndGlyphs">Concepts</text>
<text x="248.1" y="79.7" font-size="14.5" fill="#131722" textLength="70.4" lengthAdjust="spacingAndGlyphs">(Historical,</text>
<text x="326.2" y="79.7" font-size="14.5" fill="#131722" textLength="56.6" lengthAdjust="spacingAndGlyphs">Colored,</text>
<text x="388.5" y="79.7" font-size="14.5" fill="#131722" textLength="19.3" lengthAdjust="spacingAndGlyphs">All,</text>
<text x="416.6" y="79.7" font-size="14.5" fill="#131722" textLength="19.5" lengthAdjust="spacingAndGlyphs">All,</text>
<text x="443.6" y="79.7" font-size="14.5" fill="#131722" textLength="27.2" lengthAdjust="spacingAndGlyphs">tiny,</text>
<text x="477.7" y="79.7" font-size="14.5" fill="#131722" textLength="19.3" lengthAdjust="spacingAndGlyphs">All,</text>
<text x="505.8" y="79.7" font-size="14.5" fill="#131722" textLength="19.6" lengthAdjust="spacingAndGlyphs">All,</text>
<text x="532.9" y="79.7" font-size="14.5" fill="#131722" textLength="36.3" lengthAdjust="spacingAndGlyphs">small,</text>
<text x="578.8" y="79.7" font-size="14.5" fill="#131722" textLength="16.7" lengthAdjust="spacingAndGlyphs">50,</text>
<text x="605.0" y="79.7" font-size="14.5" fill="#131722" textLength="8.8" lengthAdjust="spacingAndGlyphs">5,</text>
<text x="623.2" y="79.7" font-size="14.5" fill="#131722" textLength="9.4" lengthAdjust="spacingAndGlyphs">5,</text>
<text x="640.0" y="79.7" font-size="14.5" fill="#131722" textLength="22.5" lengthAdjust="spacingAndGlyphs">Atr,</text>
<text x="668.7" y="79.7" font-size="14.5" fill="#131722" textLength="65.4" lengthAdjust="spacingAndGlyphs">High/Low,</text>
<text x="741.4" y="79.7" font-size="14.5" fill="#131722" textLength="11.5" lengthAdjust="spacingAndGlyphs">3,</text>
<text x="759.4" y="79.7" font-size="14.5" fill="#131722" textLength="20.1" lengthAdjust="spacingAndGlyphs">0.1,</text>
<text x="791.5" y="79.7" font-size="14.5" fill="#131722" textLength="26.9" lengthAdjust="spacingAndGlyphs">tiny,</text>
<text x="825.0" y="79.7" font-size="14.5" fill="#131722" textLength="2.5" lengthAdjust="spacingAndGlyphs">,</text>
<text x="834.5" y="79.7" font-size="14.5" fill="#131722" textLength="10.6" lengthAdjust="spacingAndGlyphs">1,</text>
<text x="852.0" y="79.7" font-size="14.5" fill="#131722" textLength="25.7" lengthAdjust="spacingAndGlyphs">——,</text>
<text x="885.5" y="79.7" font-size="14.5" fill="#131722" textLength="25.3" lengthAdjust="spacingAndGlyphs">——,</text>
<text x="918.0" y="79.7" font-size="14.5" fill="#131722" textLength="26.2" lengthAdjust="spacingAndGlyphs">——)</text>
<text x="953.9" y="79.7" font-size="14.5" fill="#131722" textLength="8.3" lengthAdjust="spacingAndGlyphs">ø</text>
<text x="973.4" y="79.7" font-size="14.5" fill="#f23645" textLength="44.0" lengthAdjust="spacingAndGlyphs">2.1708</text>
<text x="1028.0" y="79.7" font-size="14.5" fill="#f23645" textLength="43.0" lengthAdjust="spacingAndGlyphs">2.1513</text>
<text x="1081.6" y="79.7" font-size="14.5" fill="#f23645" textLength="43.3" lengthAdjust="spacingAndGlyphs">2.1542</text>
<g fill="#131722">
<path d="M13.1 743.9h9.8v11.8h-5v-6.9h-4.8z"/>
<circle cx="26.8" cy="746.1" r="2.3"/>
<path d="M30.6 743.9h6.7l-4.7 11.8h-5.6z"/>
</g>
<text x="42" y="755.7" font-size="15.6" fill="#131722" textLength="87.5" lengthAdjust="spacingAndGlyphs">TradingView</text>
</svg>
</body></html>
